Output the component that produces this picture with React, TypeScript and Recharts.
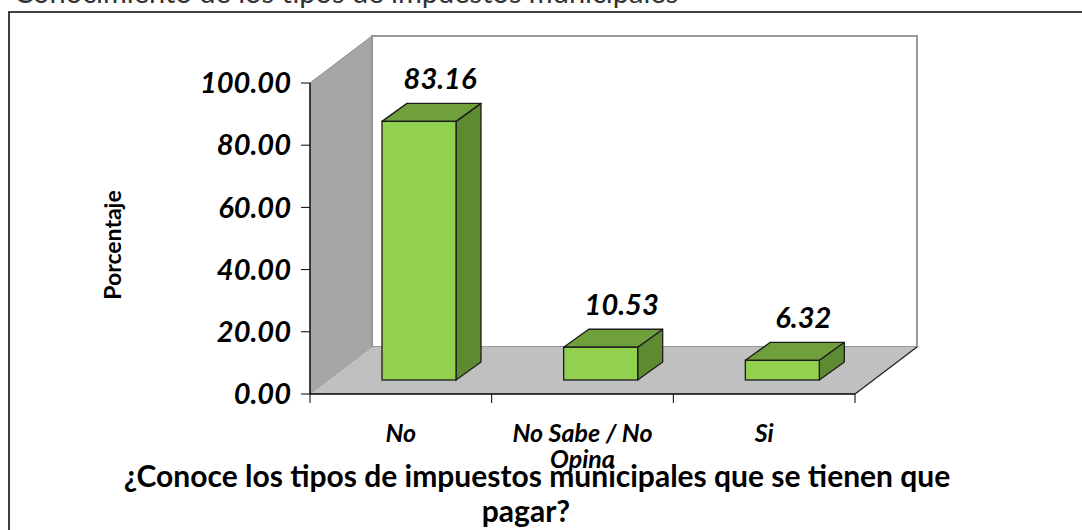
import { BarChart, Bar, XAxis, YAxis, LabelList } from "recharts";

const categories = ["No", "No Sabe / No Opina", "Si"];
const percentages = [83.16, 10.53, 6.32];
const yTicks = [0, 20, 40, 60, 80, 100];

const data = categories.map((name, i) => ({ name, value: percentages[i] }));

const W = 1082;
const H = 530;
// front plane of the 3D box
const PLOT_LEFT = 310;
const PLOT_TOP = 83;
const PLOT_RIGHT = 855;
const PLOT_BOTTOM = 394;
// full depth of the floor
const DEPTH_X = 62;
const DEPTH_Y = -47;
// where the bars stand inside the box and how deep they are
const BAR_SHIFT_X = 18;
const BAR_SHIFT_Y = -14;
const BAR_DX = 25;
const BAR_DY = -18;

const FONT = "Lato, 'Open Sans', sans-serif";

const FRONT = "#92D050";
const TOP = "#70A03C";
const SIDE = "#5E8A32";
const EDGE = "#1c1c1c";

function Bar3D(props: any) {
  const { x, y, width, height } = props;
  if (width == null || height == null) return null;
  const fx = x + BAR_SHIFT_X;
  const fy = y + BAR_SHIFT_Y;
  const top = `${fx},${fy} ${fx + BAR_DX},${fy + BAR_DY} ${fx + width + BAR_DX},${fy + BAR_DY} ${fx + width},${fy}`;
  const side = `${fx + width},${fy} ${fx + width + BAR_DX},${fy + BAR_DY} ${fx + width + BAR_DX},${fy + height + BAR_DY} ${fx + width},${fy + height}`;
  return (
    <g>
      <polygon points={side} fill={SIDE} stroke={EDGE} strokeWidth={1.3} strokeLinejoin="round" />
      <polygon points={top} fill={TOP} stroke={EDGE} strokeWidth={1.3} strokeLinejoin="round" />
      <rect x={fx} y={fy} width={width} height={height} fill={FRONT} stroke={EDGE} strokeWidth={1.3} />
    </g>
  );
}

function ValueLabel(props: any) {
  const { x, y, width, value } = props;
  const cx = x + BAR_SHIFT_X + width / 2 + 21;
  const cy = y + BAR_SHIFT_Y + BAR_DY - 26;
  return (
    <text
      x={cx}
      y={cy}
      textAnchor="middle"
      dominantBaseline="central"
      fontFamily={FONT}
      fontSize={29}
      fontWeight={700}
      fontStyle="italic"
      fill="#000"
    >
      {Number(value).toFixed(2)}
    </text>
  );
}

function wrap(label: string, maxChars: number) {
  const words = label.split(" ");
  const lines: string[] = [];
  let cur = "";
  for (const w of words) {
    const next = cur ? cur + " " + w : w;
    if (next.length > maxChars && cur) {
      lines.push(cur);
      cur = w;
    } else {
      cur = next;
    }
  }
  if (cur) lines.push(cur);
  return lines;
}

function CategoryTick(props: any) {
  const { x, index, payload } = props;
  const band = (PLOT_RIGHT - PLOT_LEFT) / categories.length;
  const lines = wrap(String(payload.value), 12);
  const last = index === categories.length - 1;
  return (
    <g>
      <line x1={x - band / 2} x2={x - band / 2} y1={PLOT_BOTTOM} y2={PLOT_BOTTOM + 9} stroke="#000" />
      {last && <line x1={x + band / 2} x2={x + band / 2} y1={PLOT_BOTTOM} y2={PLOT_BOTTOM + 9} stroke="#000" />}
      <text
        x={x}
        y={PLOT_BOTTOM + 38}
        textAnchor="middle"
        dominantBaseline="central"
        fontFamily={FONT}
        fontSize={25}
        fontWeight={700}
        fontStyle="italic"
        fill="#000"
      >
        {lines.map((l, i) => (
          <tspan key={i} x={x} dy={i === 0 ? 0 : 26}>
            {l}
          </tspan>
        ))}
      </text>
    </g>
  );
}

function Box() {
  const bx = PLOT_LEFT + DEPTH_X;
  const by = PLOT_BOTTOM + DEPTH_Y;
  const ty = PLOT_TOP + DEPTH_Y;
  const rx = PLOT_RIGHT + DEPTH_X;
  return (
    <svg width={W} height={H} style={{ position: "absolute", left: 0, top: 0 }}>
      <rect x={9} y={12} width={W + 10} height={H + 10} fill="#fff" stroke="#000" strokeWidth={1.5} />
      <rect x={bx} y={ty} width={rx - bx} height={by - ty} fill="#fff" stroke="#9a9a9a" strokeWidth={2} />
      <polygon
        points={`${PLOT_LEFT},${PLOT_TOP} ${bx},${ty} ${bx},${by} ${PLOT_LEFT},${PLOT_BOTTOM}`}
        fill="#A6A6A6"
        stroke="#8c8c8c"
        strokeWidth={1}
      />
      <polygon
        points={`${PLOT_LEFT},${PLOT_BOTTOM} ${bx},${by} ${rx},${by} ${PLOT_RIGHT},${PLOT_BOTTOM}`}
        fill="#C0C0C0"
      />
      <line x1={PLOT_RIGHT} y1={PLOT_BOTTOM} x2={rx} y2={by} stroke="#222" strokeWidth={1.3} />
    </svg>
  );
}

function Titles() {
  return (
    <svg width={W} height={H} style={{ position: "absolute", left: 0, top: 0, pointerEvents: "none" }}>
      <text x={14} y={3} fontFamily={FONT} fontSize={29} fill="#333">
        Conocimiento de los tipos de impuestos municipales
      </text>
      <text
        x={112}
        y={245}
        transform="rotate(-90 112 245)"
        textAnchor="middle"
        dominantBaseline="central"
        fontFamily={FONT}
        fontSize={23}
        fontWeight={700}
        fill="#000"
      >
        Porcentaje
      </text>
      <text x={537} y={487} textAnchor="middle" fontFamily={FONT} fontSize={30} fontWeight={700} fill="#000">
        ¿Conoce los tipos de impuestos municipales que se tienen que
      </text>
      <text x={526} y={522} textAnchor="middle" fontFamily={FONT} fontSize={30} fontWeight={700} fill="#000">
        pagar?
      </text>
    </svg>
  );
}

export default function App() {
  const yAxisWidth = 120;
  const xAxisHeight = 60;
  return (
    <div style={{ position: "absolute", left: 0, top: 0, width: W, height: H, overflow: "hidden", background: "#fff" }}>
      <Box />
      <div style={{ position: "absolute", left: 0, top: 0 }}>
        <BarChart
          width={W}
          height={H}
          data={data}
          margin={{
            top: PLOT_TOP,
            left: PLOT_LEFT - yAxisWidth,
            right: W - PLOT_RIGHT,
            bottom: H - PLOT_BOTTOM - xAxisHeight,
          }}
        >
          <XAxis
            dataKey="name"
            height={xAxisHeight}
            axisLine={{ stroke: "#000", strokeWidth: 1.3 }}
            tickLine={false}
            tick={<CategoryTick />}
            interval={0}
          />
          <YAxis
            width={yAxisWidth}
            domain={[0, 100]}
            ticks={yTicks}
            tickFormatter={(v: number) => v.toFixed(2)}
            axisLine={{ stroke: "#000", strokeWidth: 1.3 }}
            tickLine={{ stroke: "#000" }}
            tickSize={9}
            tickMargin={10}
            tick={{ fontFamily: FONT, fontSize: 29, fontWeight: 700, fontStyle: "italic", fill: "#000" }}
          />
          <Bar dataKey="value" barSize={74} shape={<Bar3D />} isAnimationActive={false}>
            <LabelList dataKey="value" content={<ValueLabel />} />
          </Bar>
        </BarChart>
      </div>
      <Titles />
    </div>
  );
}
